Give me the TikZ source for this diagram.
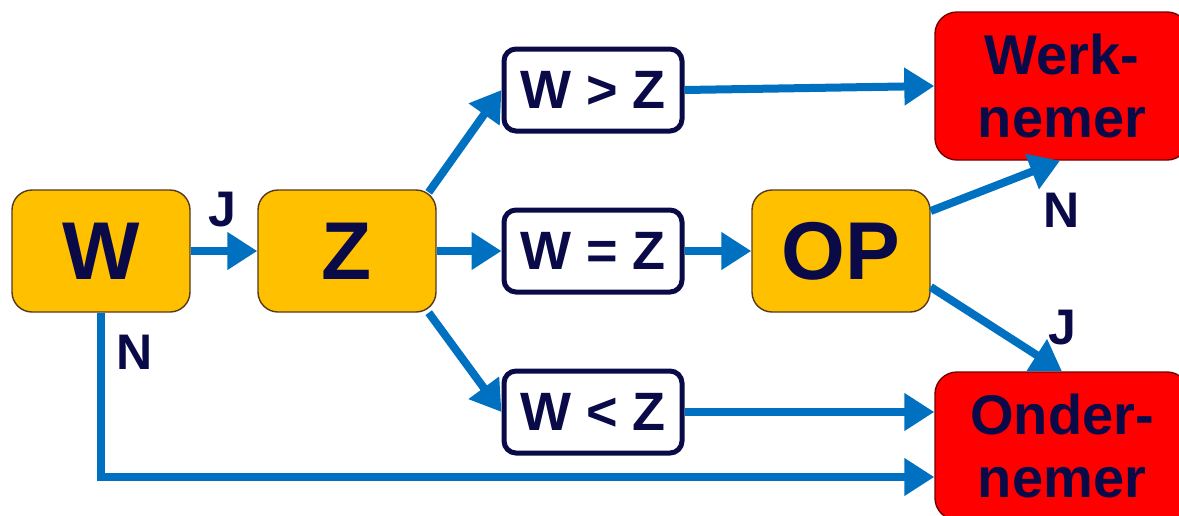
\documentclass[tikz,border=0pt]{standalone}
\usepackage{fontspec}
\setmainfont{Liberation Sans}
\usetikzlibrary{arrows.meta}
\definecolor{boxyellow}{RGB}{255,192,0}
\definecolor{boxred}{RGB}{255,0,0}
\definecolor{flowblue}{RGB}{0,112,192}
\definecolor{inknavy}{RGB}{10,10,72}
\tikzset{
  yellowbox/.style={draw=black!55!brown, line width=0.7pt, fill=boxyellow, rounded corners=10pt,
    minimum width=89pt, minimum height=61pt, text=inknavy,
    font=\fontsize{41}{41}\selectfont\bfseries},
  condbox/.style={draw=inknavy, line width=2.5pt, fill=white, rounded corners=6pt,
    minimum width=89pt, minimum height=41pt, text=inknavy,
    font=\fontsize{27}{27}\selectfont\bfseries},
  redbox/.style={draw=red!45!black, line width=0.7pt, fill=boxred, rounded corners=11pt,
    minimum width=127pt, minimum height=74pt, text=inknavy, align=center,
    font=\fontsize{28}{31.5}\selectfont\bfseries},
  flowlabel/.style={text=inknavy, font=\fontsize{25}{25}\selectfont\bfseries},
  flow/.style={draw=flowblue, line width=4pt, -{Triangle[length=15pt,width=18pt]}}
}
\begin{document}
\begin{tikzpicture}[x=0.5pt,y=-0.5pt]
\clip (0,0) rectangle (1179,515);
\node[yellowbox] (W) at (101,251) {W};
\node[yellowbox] (Z) at (347,251) {Z};
\node[condbox] (gt) at (593,90) {W > Z};
\node[condbox] (eq) at (593,251) {W = Z};
\node[condbox] (lt) at (593,412) {W < Z};
\node[yellowbox] (OP) at (841,251) {OP};
\node[redbox] (werk) at (1062,86) {Werk-\\nemer};
\node[redbox] (onder) at (1062,446) {Onder-\\nemer};
\draw[flow] (W.east) -- (Z.west);
\draw[flow] ([xshift=-4pt,yshift=-1.5pt]Z.north east) -- (gt.west);
\draw[flow] (Z.east) -- (eq.west);
\draw[flow] ([xshift=-4pt]Z.south east) -- (lt.west);
\draw[flow] (gt.east) -- (werk.west);
\draw[flow] (eq.east) -- (OP.west);
\draw[flow] (lt.east) -- (lt.east -| onder.west);
\draw[flow] ([yshift=20pt]OP.east) -- ([xshift=-1pt]werk.south);
\draw[flow] ([yshift=-18pt]OP.east) -- (onder.north);
\draw[flow] (W.south) |- ([yshift=-15.5pt]onder.west);
\node[flowlabel] (jz) at (222,210) {J};
\node[flowlabel] (nw) at (135,352) {N};
\node[flowlabel] (nop) at (1062,210) {N};
\node[flowlabel] (jop) at (1062,328) {J};
\end{tikzpicture}
\end{document}
